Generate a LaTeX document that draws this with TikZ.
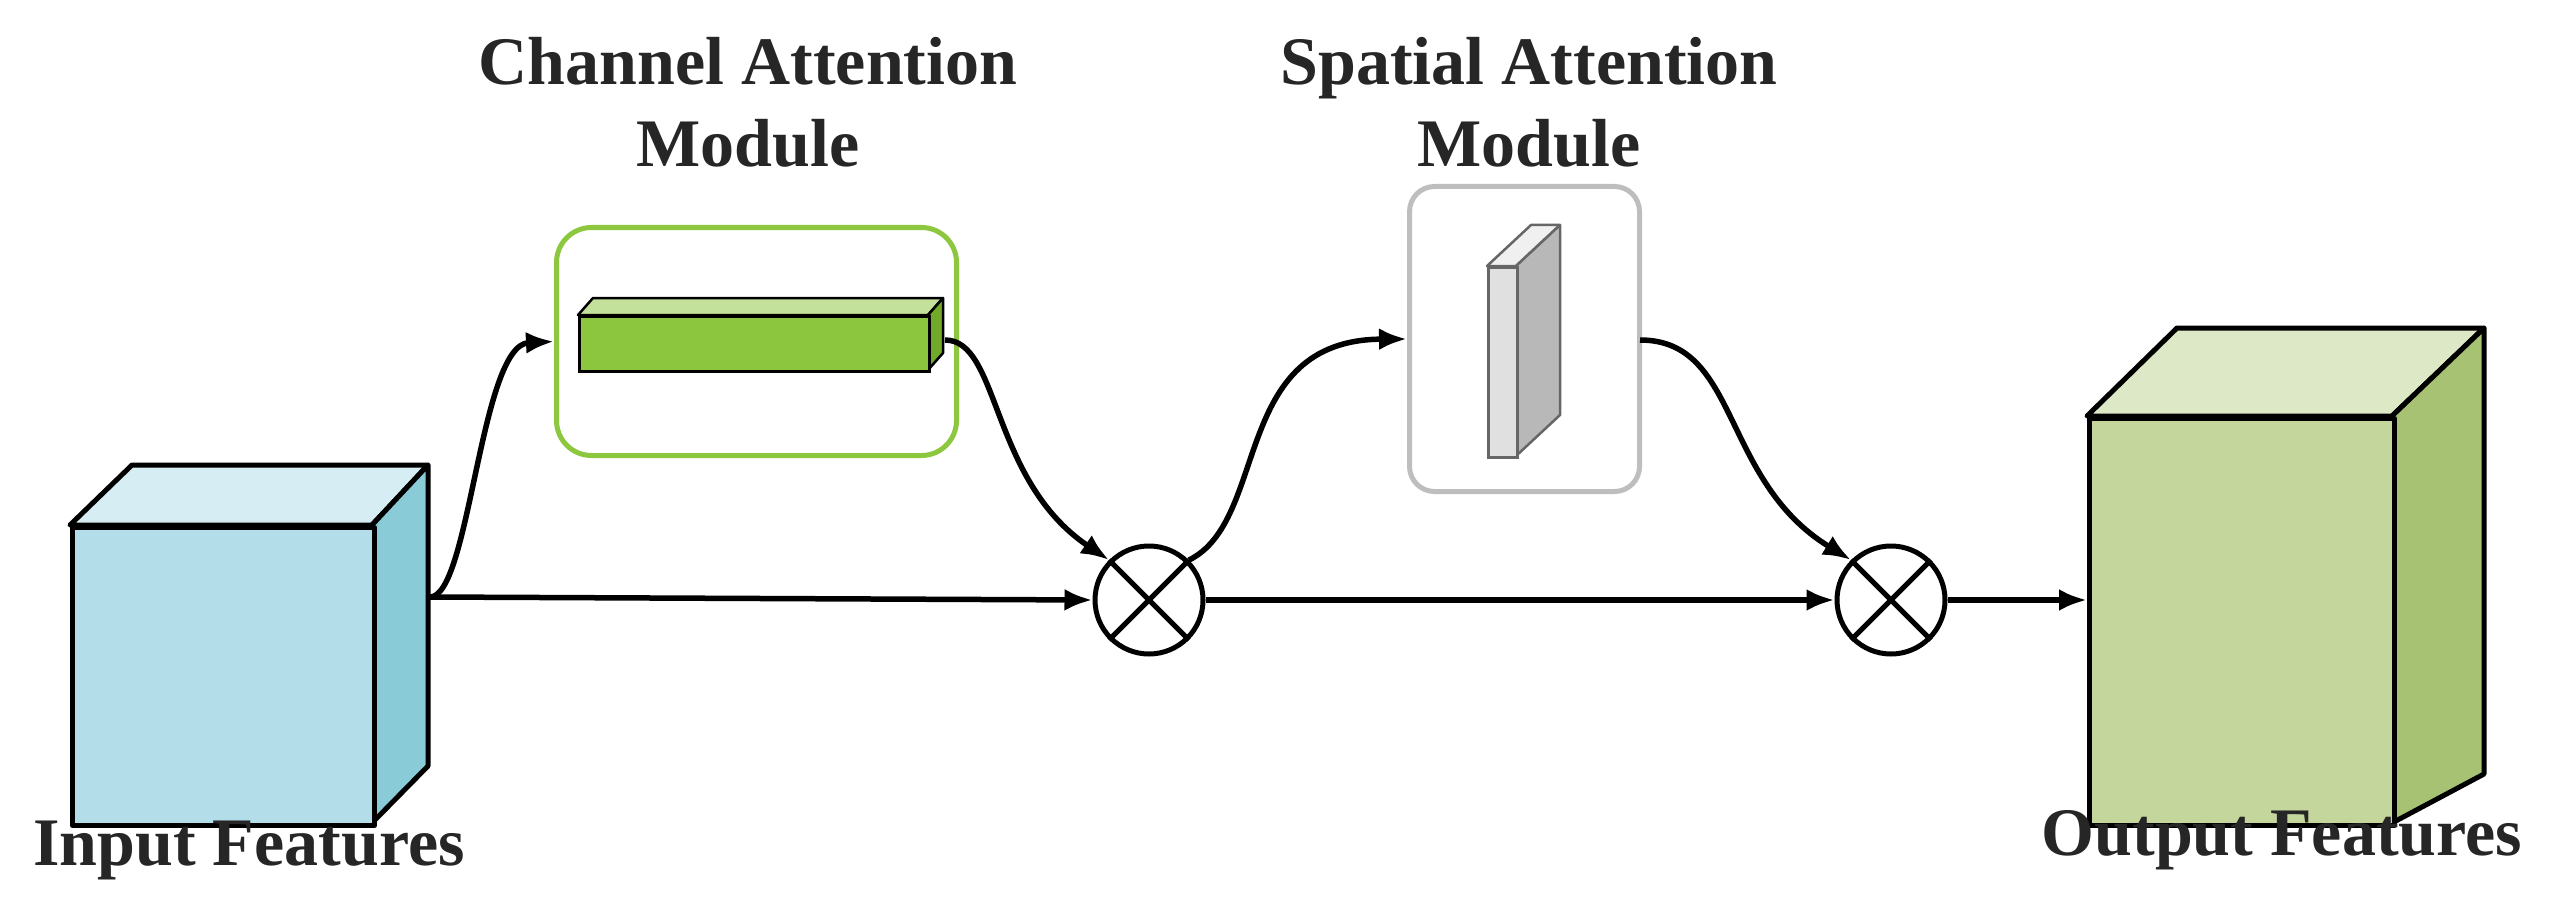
\documentclass[tikz,border=0pt]{standalone}
\usepackage{fontspec}
\setmainfont{Liberation Serif}
\usetikzlibrary{arrows.meta}
\begin{document}
\begin{tikzpicture}[x=1pt,y=-1pt,
  edge/.style={line width=5.5pt,-{Latex[length=28pt,width=22pt]}},
  lbl/.style={font=\fontsize{68}{82}\selectfont\bfseries,align=center,text=black!85},
  fc/.style={line width=5pt,line join=round}]
\useasboundingbox (0,0) rectangle (2556,904);
% input cube
\fill[fc,draw=black,fill={rgb,255:red,213;green,237;blue,243}] (70,525)--(132,465)--(428,465)--(372,525)--cycle;
\fill[fc,draw=black,fill={rgb,255:red,138;green,203;blue,216}] (372,525)--(428,465)--(428,766)--(372,823)--cycle;
\node[fc,draw=black,fill={rgb,255:red,179;green,221;blue,233},minimum width=302pt,minimum height=298pt,inner sep=0,anchor=north west] (in) at (70,525) {};
\coordinate (inr) at (430,597);
% output cube
\fill[fc,draw=black,fill={rgb,255:red,221;green,232;blue,198}] (2087,416)--(2177,328)--(2484,328)--(2392,416)--cycle;
\fill[fc,draw=black,fill={rgb,255:red,168;green,194;blue,116}] (2392,416)--(2484,328)--(2484,774)--(2392,823)--cycle;
\node[fc,draw=black,fill={rgb,255:red,197;green,214;blue,156},minimum width=305pt,minimum height=407pt,inner sep=0,anchor=north west] (out) at (2087,416) {};
% channel box
\node[draw={rgb,255:red,141;green,198;blue,63},line width=5pt,rounded corners=35pt,minimum width=400pt,minimum height=228pt,anchor=north west] (cam) at (554,225) {};
\fill[fc,line width=2.5pt,draw=black,fill={rgb,255:red,195;green,225;blue,154}] (578,315)--(593,298)--(943,298)--(928,315)--cycle;
\fill[fc,line width=2.5pt,draw=black,fill={rgb,255:red,112;green,170;blue,40}] (928,315)--(943,298)--(943,353)--(928,370)--cycle;
\node[line width=2.5pt,draw=black,fill={rgb,255:red,140;green,198;blue,63},minimum width=350pt,minimum height=55pt,inner sep=0,anchor=north west] (bar) at (578,315) {};
% spatial box
\node[draw={rgb,255:red,190;green,190;blue,190},line width=5pt,rounded corners=25pt,minimum width=230pt,minimum height=305pt,anchor=north west] (sam) at (1407,184) {};
\fill[fc,line width=2.5pt,draw=black!60,fill={rgb,255:red,240;green,240;blue,240}] (1487,266)--(1531,225)--(1560,225)--(1516,266)--cycle;
\fill[fc,line width=2.5pt,draw=black!60,fill={rgb,255:red,184;green,184;blue,184}] (1516,266)--(1560,225)--(1560,415)--(1516,456)--cycle;
\node[line width=2.5pt,draw=black!60,fill={rgb,255:red,224;green,224;blue,224},minimum width=29pt,minimum height=190pt,inner sep=0,anchor=north west] (slab) at (1487,266) {};
% multipliers
\node[circle,draw=black,line width=5pt,fill=white,minimum size=108pt,inner sep=0] (m1) at (1149,600) {};
\node[circle,draw=black,line width=5pt,fill=white,minimum size=108pt,inner sep=0] (m2) at (1891,600) {};
\foreach \m in {m1,m2}{\draw[line width=5pt] (\m.north west)--(\m.south east) (\m.north east)--(\m.south west);}
% connectors
\draw[edge] (inr) -- (m1.west);
\draw[edge] (inr) .. controls (470,597) and (480,345) .. (cam.west);
\coordinate (be) at (945,340);
\draw[edge] (be) .. controls (1000,340) and (990,480) .. (m1.north west);
\draw[edge] (m1.north east) .. controls (1270,520) and (1230,340) .. (sam.west);
\coordinate (se) at (1640,340);
\draw[edge] (se) .. controls (1740,340) and (1720,480) .. (m2.north west);
\draw[edge] (m1.east) -- (m2.west);
\draw[edge] (m2.east) -- (out.west |- m2);
% labels
\node[lbl] (t1) at (748,102) {Channel Attention\\Module};
\node[lbl] (t2) at (1529,102) {Spatial Attention\\Module};
\node[lbl] (t3) at (249,850) {Input Features};
\node[lbl] (t4) at (2282,840) {Output Features};
\end{tikzpicture}
\end{document}
